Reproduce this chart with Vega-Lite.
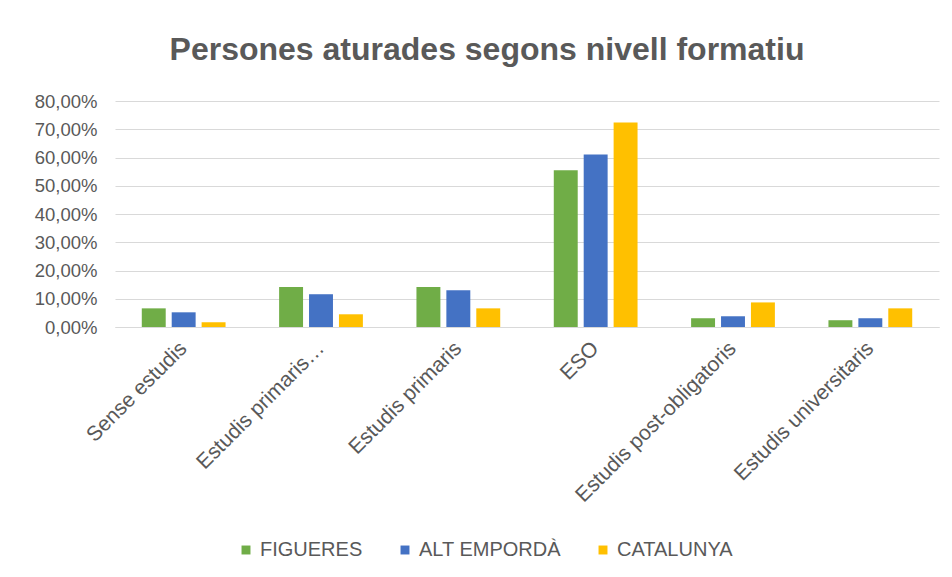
{
  "$schema": "https://vega.github.io/schema/vega-lite/v6.json",
  "width": 824,
  "height": 226,
  "autosize": {"type": "none"},
  "padding": {"left": 115, "top": 101, "right": 13, "bottom": 250},
  "background": "white",
  "title": {
    "text": "Persones aturades segons nivell formatiu",
    "font": "Liberation Sans",
    "fontSize": 32,
    "fontWeight": "bold",
    "color": "#595959",
    "anchor": "middle",
    "baseline": "alphabetic",
    "dx": -40,
    "offset": 0
  },
  "data": {
    "values": [
      {"cat": "Sense estudis", "serie": "FIGUERES", "value": 0.066},
      {"cat": "Sense estudis", "serie": "ALT EMPORDÀ", "value": 0.052},
      {"cat": "Sense estudis", "serie": "CATALUNYA", "value": 0.017},
      {"cat": "Estudis primaris…", "serie": "FIGUERES", "value": 0.142},
      {"cat": "Estudis primaris…", "serie": "ALT EMPORDÀ", "value": 0.116},
      {"cat": "Estudis primaris…", "serie": "CATALUNYA", "value": 0.045},
      {"cat": "Estudis primaris", "serie": "FIGUERES", "value": 0.142},
      {"cat": "Estudis primaris", "serie": "ALT EMPORDÀ", "value": 0.130},
      {"cat": "Estudis primaris", "serie": "CATALUNYA", "value": 0.066},
      {"cat": "ESO", "serie": "FIGUERES", "value": 0.555},
      {"cat": "ESO", "serie": "ALT EMPORDÀ", "value": 0.611},
      {"cat": "ESO", "serie": "CATALUNYA", "value": 0.724},
      {"cat": "Estudis post-obligatoris", "serie": "FIGUERES", "value": 0.031},
      {"cat": "Estudis post-obligatoris", "serie": "ALT EMPORDÀ", "value": 0.038},
      {"cat": "Estudis post-obligatoris", "serie": "CATALUNYA", "value": 0.087},
      {"cat": "Estudis universitaris", "serie": "FIGUERES", "value": 0.024},
      {"cat": "Estudis universitaris", "serie": "ALT EMPORDÀ", "value": 0.031},
      {"cat": "Estudis universitaris", "serie": "CATALUNYA", "value": 0.066}
    ]
  },
  "mark": {"type": "bar"},
  "encoding": {
    "x": {
      "field": "cat",
      "type": "nominal",
      "sort": null,
      "title": null,
      "scale": {"paddingInner": 0.39, "paddingOuter": 0.195},
      "axis": {
        "labelAngle": -45,
        "labelAlign": "right",
        "labelBaseline": "middle",
        "labelPadding": 18,
        "ticks": false,
        "domain": true,
        "domainColor": "#d9d9d9",
        "labelFont": "Liberation Sans",
        "labelFontSize": 21,
        "labelColor": "#595959",
        "labelLimit": 400
      }
    },
    "xOffset": {
      "field": "serie",
      "type": "nominal",
      "sort": ["FIGUERES", "ALT EMPORDÀ", "CATALUNYA"],
      "scale": {"paddingInner": 0.2, "paddingOuter": 0}
    },
    "y": {
      "field": "value",
      "type": "quantitative",
      "title": null,
      "scale": {"domain": [0, 0.8], "nice": false},
      "axis": {
        "values": [0, 0.1, 0.2, 0.3, 0.4, 0.5, 0.6, 0.7, 0.8],
        "labelExpr": "replace(format(datum.value, '.2%'), '.', ',')",
        "domain": false,
        "ticks": false,
        "labelPadding": 18,
        "gridColor": "#d9d9d9",
        "gridWidth": 1,
        "labelFont": "Liberation Sans",
        "labelFontSize": 18.5,
        "labelColor": "#595959"
      }
    },
    "color": {
      "field": "serie",
      "type": "nominal",
      "sort": ["FIGUERES", "ALT EMPORDÀ", "CATALUNYA"],
      "scale": {
        "domain": ["FIGUERES", "ALT EMPORDÀ", "CATALUNYA"],
        "range": ["#70AD47", "#4472C4", "#FFC000"]
      },
      "legend": {
        "title": null,
        "orient": "none",
        "legendX": 121,
        "legendY": 439,
        "direction": "horizontal",
        "symbolType": "square",
        "symbolSize": 80,
        "labelFont": "Liberation Sans",
        "labelFontSize": 20,
        "labelColor": "#595959",
        "columnPadding": 32,
        "labelOffset": 4
      }
    }
  },
  "config": {
    "view": {"stroke": null}
  }
}
